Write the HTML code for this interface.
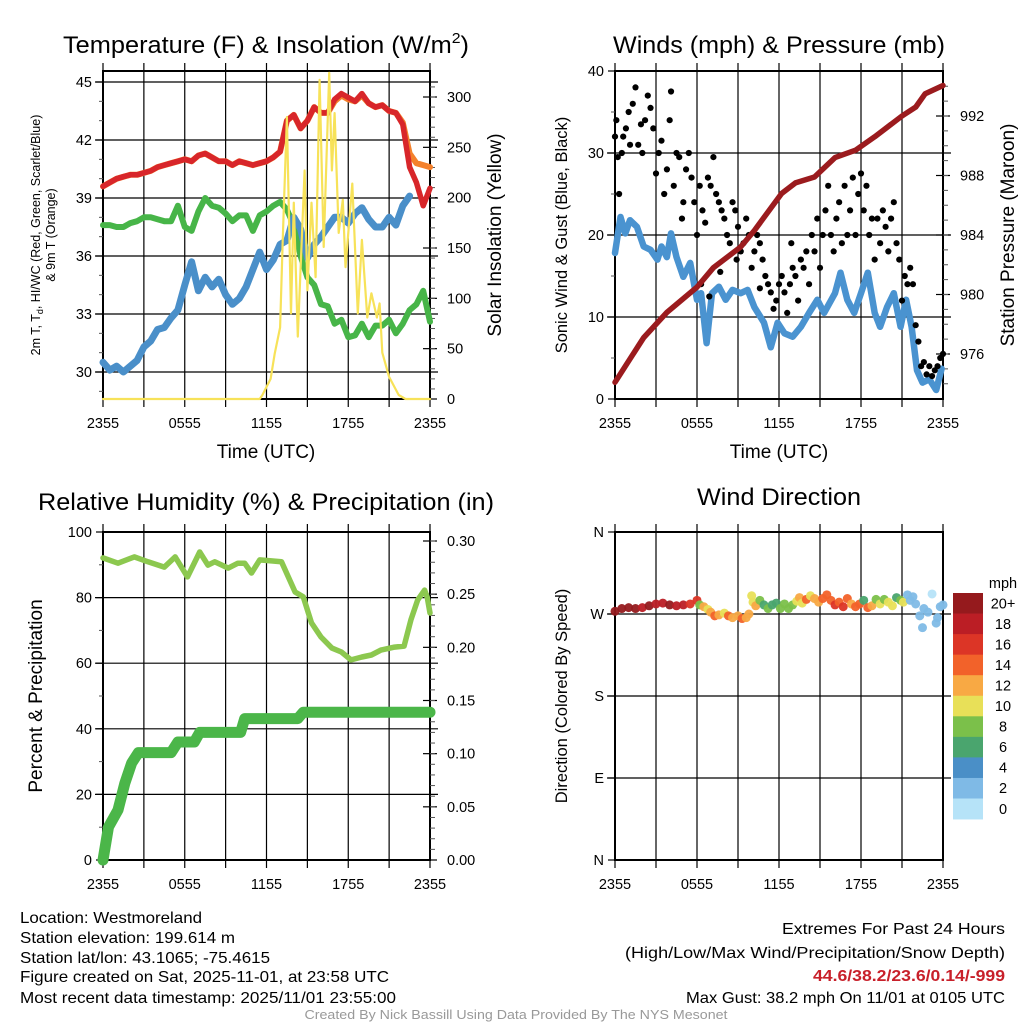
<!DOCTYPE html>
<html><head><meta charset="utf-8">
<style>
html,body{margin:0;padding:0;background:#fff;}
svg{display:block;font-family:"Liberation Sans",sans-serif;}
</style></head>
<body>
<svg id="fig" width="1024" height="1024" viewBox="0 0 1024 1024" xmlns="http://www.w3.org/2000/svg">
<rect width="1024" height="1024" fill="#fff"/>
<g font-size="24" text-anchor="middle" fill="#000">
<text x="266" y="53" textLength="406" lengthAdjust="spacingAndGlyphs">Temperature (F) &amp; Insolation (W/m<tspan font-size="15" dy="-10">2</tspan><tspan dy="10">)</tspan></text>
<text x="779" y="53" textLength="332" lengthAdjust="spacingAndGlyphs">Winds (mph) &amp; Pressure (mb)</text>
<text x="266" y="510" textLength="456" lengthAdjust="spacingAndGlyphs">Relative Humidity (%) &amp; Precipitation (in)</text>
<text x="779" y="505" textLength="164" lengthAdjust="spacingAndGlyphs">Wind Direction</text>
</g>
<g fill="#000" text-anchor="middle">
<text x="266" y="458" font-size="19">Time (UTC)</text>
<text x="779" y="458" font-size="19">Time (UTC)</text>
<text font-size="12.5" transform="translate(40,235) rotate(-90)">2m T, T<tspan font-size="9" dy="3">d</tspan><tspan dy="-3">, HI/WC (Red, Green, Scarlet/Blue)</tspan></text>
<text font-size="12.5" transform="translate(55,235) rotate(-90)">&amp; 9m T (Orange)</text>
<text font-size="19" transform="translate(501,235) rotate(-90)">Solar Insolation (Yellow)</text>
<text font-size="16.5" transform="translate(567,235) rotate(-90)">Sonic Wind &amp; Gust (Blue, Black)</text>
<text font-size="19" transform="translate(1014,235) rotate(-90)">Station Pressure (Maroon)</text>
<text font-size="19" transform="translate(42,696) rotate(-90)">Percent &amp; Precipitation</text>
<text font-size="16.5" transform="translate(567,696) rotate(-90)">Direction (Colored By Speed)</text>
</g>
<g id="plots"></g>
<g font-size="16" fill="#000" lengthAdjust="spacingAndGlyphs">
<text x="20" y="923" textLength="182" lengthAdjust="spacingAndGlyphs">Location: Westmoreland</text>
<text x="20" y="943" textLength="215" lengthAdjust="spacingAndGlyphs">Station elevation: 199.614 m</text>
<text x="20" y="963" textLength="250" lengthAdjust="spacingAndGlyphs">Station lat/lon: 43.1065; -75.4615</text>
<text x="20" y="982" textLength="369" lengthAdjust="spacingAndGlyphs">Figure created on Sat, 2025-11-01, at 23:58 UTC</text>
<text x="20" y="1003" textLength="376" lengthAdjust="spacingAndGlyphs">Most recent data timestamp: 2025/11/01 23:55:00</text>
</g>
<g font-size="16" fill="#000" text-anchor="end">
<text x="1005" y="934" textLength="223" lengthAdjust="spacingAndGlyphs">Extremes For Past 24 Hours</text>
<text x="1005" y="958" textLength="380" lengthAdjust="spacingAndGlyphs">(High/Low/Max Wind/Precipitation/Snow Depth)</text>
<text x="1005" y="981" fill="#c8202a" font-weight="bold" textLength="192" lengthAdjust="spacingAndGlyphs">44.6/38.2/23.6/0.14/-999</text>
<text x="1005" y="1003" textLength="319" lengthAdjust="spacingAndGlyphs">Max Gust: 38.2 mph On 11/01 at 0105 UTC</text>
</g>
<text x="516" y="1019" font-size="13" fill="#999" text-anchor="middle" textLength="423" lengthAdjust="spacingAndGlyphs">Created By Nick Bassill Using Data Provided By The NYS Mesonet</text>
</svg>
<script>
// ---------- data ----------
const timeLabels = ["2355","0555","1155","1755","2355"];
const tempHours = [0,0.5,1,1.5,2,2.5,3,3.5,4,4.5,5,5.5,6,6.5,7,7.5,8,8.5,9,9.5,10,10.5,11,11.5,12,12.5,13,13.5,14,14.5,15,15.5,16,16.5,17,17.5,18,18.5,19,19.5,20,20.5,21,21.5,22,22.5,23,23.5,24];
const redTemp = [39.6,39.8,40.0,40.1,40.2,40.2,40.3,40.4,40.6,40.7,40.8,40.9,41.0,40.9,41.2,41.3,41.1,40.9,40.9,40.7,40.9,40.8,40.7,40.8,40.9,41.1,41.4,43.0,43.3,42.6,43.0,43.7,43.4,43.4,44.1,44.4,44.2,44.0,44.4,43.9,43.7,43.8,43.5,43.4,42.8,40.6,39.8,38.6,39.5];
const orangeTemp = [39.6,39.8,40.0,40.1,40.2,40.2,40.3,40.4,40.6,40.7,40.8,40.9,41.0,40.9,41.2,41.3,41.1,40.9,40.9,40.7,40.9,40.8,40.7,40.8,40.9,41.1,41.4,43.0,43.3,42.6,43.0,43.7,43.4,43.4,44.0,44.3,44.1,44.0,44.3,43.9,43.7,43.8,43.5,43.4,42.9,41.3,40.8,40.7,40.6];
const greenDew = [37.6,37.6,37.5,37.5,37.7,37.8,38.0,38.0,37.9,37.8,37.8,38.6,37.5,37.3,38.3,39.0,38.6,38.5,38.2,37.8,38.1,38.1,37.3,38.1,38.3,38.6,38.8,38.4,37.6,36.0,34.9,34.5,33.5,33.4,32.5,32.7,31.8,31.9,32.5,31.8,32.4,32.4,32.7,32.0,32.5,33.2,33.5,34.2,32.6];
const blueChill = [30.5,30.1,30.3,30.0,30.3,30.6,31.3,31.6,32.2,32.3,32.8,33.2,34.5,35.7,34.2,34.9,34.4,34.8,34.0,33.5,33.8,34.4,35.3,36.2,35.3,35.8,36.6,36.8,38.0,37.4,35.9,36.6,37.0,37.5,38.0,38.0,37.7,38.2,38.5,37.9,37.5,37.5,38.0,37.6,38.6,39.1,null,null,null];
const solarHours = [0,11.5,11.7,12.3,12.6,13.0,13.2,13.5,13.8,14.0,14.3,14.8,15.0,15.3,15.6,15.9,16.2,16.6,16.8,17.0,17.3,17.6,17.8,18.3,18.7,19.0,19.4,19.7,20.1,20.3,20.5,21.0,21.7,22.2,24];
const solarValues = [0,0,4,20,45,71,160,280,85,195,62,227,108,195,121,317,151,324,227,284,165,198,131,214,85,158,81,105,81,95,46,22,4,0,0];
const windHours = [0,0.4,0.75,1.1,1.6,2.1,2.6,3.1,3.4,3.8,4.1,4.5,5.0,5.5,6.0,6.3,6.7,7.1,7.6,8.1,8.6,9.2,9.7,10.2,10.9,11.4,11.9,12.4,13.0,13.6,14.2,14.8,15.3,16.1,16.5,17.0,17.5,18.0,18.5,19.0,19.4,19.9,20.4,20.9,21.3,21.7,22.1,22.5,23.0,23.5,23.9];
const windSpeed = [17.8,22.2,20.2,21.8,21.0,18.6,18.2,17.0,18.6,17.3,20.2,17.3,14.9,16.6,12.1,12.9,6.8,12.9,13.7,12.1,13.3,12.9,13.3,11.2,9.3,6.3,9.3,8.0,7.6,8.8,10.5,12.1,10.5,12.9,15.4,12.1,10.5,12.9,15.4,10.5,8.8,11.2,12.9,8.8,12.1,8.8,3.5,2.0,2.4,1.1,3.7];
const gustHours = [0,0.1,0.2,0.3,0.5,0.6,0.8,1.0,1.1,1.3,1.5,1.7,1.9,2.0,2.2,2.4,2.6,2.8,3.0,3.2,3.4,3.6,3.8,4.0,4.1,4.3,4.5,4.7,4.9,5.0,5.2,5.4,5.6,5.8,6.0,6.2,6.4,6.6,6.8,7.0,7.2,7.4,7.6,7.8,8.0,8.2,8.4,8.6,8.8,9.0,9.2,9.4,9.6,9.8,10.0,10.2,10.4,10.6,10.8,11.0,11.2,11.4,11.6,11.8,12.0,12.2,12.4,12.6,12.8,13.0,13.2,13.4,13.6,13.8,14.0,14.2,14.4,14.6,14.8,15.0,15.2,15.4,15.6,15.8,16.0,16.2,16.4,16.6,16.8,17.0,17.2,17.4,17.6,17.8,18.0,18.2,18.4,18.6,18.8,19.0,19.2,19.4,19.6,19.8,20.0,20.2,20.4,20.6,20.8,21.0,21.2,21.4,21.6,21.8,22.0,22.2,22.4,22.6,22.8,23.0,23.2,23.4,23.6,23.8,24.0,6.3,6.9,7.7,8.9,10.6,12.9];
const gustSpeed = [32,34,29.5,25,30,32,33,35,31,36,38,31,33.5,30,34,37,35.5,33,27.5,30,31.5,25,28,34,37.5,26,30,29.5,22,24,28,30,27,24,20,26,23,21.5,27,26,29.5,25,24,23,22,20,19,24,23,21,18,19,22,20,16,18,20,19,17,15,14,13,11,12,14,15,13,10.5,14,16,15,12,17,16,18,14,20,18,22,16,20,23,26,20,18,22,24,19,26,20,23,27,20,25,27.5,23,26,20,22,17,22,19,23,21,18,22,24,19,17,12,15,14,16,14,9,7,4,4.5,3,4,2.8,3.5,4,5,5.5,14,12.5,15.5,17,13.5,19];
const pressHours = [0,2.1,3.8,6.0,7.2,9.2,10.2,12.2,13.2,14.6,16.1,17.6,19.0,21.0,22.0,22.7,24];
const pressValues = [974.1,977.1,978.8,980.5,981.8,983.2,984.3,986.8,987.5,987.9,989.2,989.7,990.6,992.0,992.6,993.5,994.05];
const rhHours = [0,1.1,2.3,3.3,4.5,5.3,6.2,7.1,7.7,8.2,9.2,9.9,10.4,10.9,11.5,13.1,13.6,14.1,14.7,15.3,16.0,16.8,17.5,18.2,19.0,19.7,20.4,21.4,22.1,22.6,23.1,23.6,23.8,24];
const rhValues = [92.1,90.5,92.4,90.9,89.3,92.4,86.3,93.9,89.9,90.9,89.0,90.5,90.5,87.5,91.5,90.9,86.3,81.7,80.2,72.3,68.0,64.6,63.4,61.0,61.9,62.5,64.0,64.9,65.2,73.2,79.3,82.3,80.0,75.3];
const precipHours = [0,0.4,1.1,1.6,2.1,2.6,5.0,5.5,6.7,7.1,10.1,10.4,14.3,14.7,24];
const precipValues = [0,0.031,0.047,0.072,0.091,0.101,0.101,0.111,0.111,0.120,0.120,0.133,0.133,0.139,0.139];
const dirHours = [0,0.5,1,1.5,2,2.5,3,3.5,4,4.5,5,5.5,6,6.2,6.5,6.8,7,7.3,7.6,8,8.3,8.6,9,9.3,9.6,9.8,10,10.1,10.3,10.6,10.9,11.2,11.5,11.8,12.1,12.4,12.7,13,13.3,13.5,13.7,14,14.3,14.6,14.9,15.2,15.5,15.8,16.1,16.4,16.7,17,17.3,17.6,17.9,18.2,18.5,18.8,19.1,19.4,19.7,20,20.3,20.6,20.9,21.1,21.4,21.6,21.8,22,22.3,22.5,22.6,22.9,23.2,23.5,23.6,23.8,24];
const dirValues = [273,276,277,276,277,279,281,282,280,279,280,281,285,280,278,275,272,268,269,271,268,266,268,265,266,270,290,283,279,285,280,276,280,282,276,281,276,280,284,288,282,286,290,287,283,287,291,285,280,283,278,287,281,278,281,285,277,279,286,281,286,283,279,288,285,283,291,285,289,281,268,255,276,272,292,260,266,278,280];
const dirSpeed = [20,20,21,20,19,20,18,18,21,19,18,17,16,8,12,10,12,14,13,10,14,13,12,14,12,12,10,10,12,9,7,8,6,7,8,9,8,8,10,12,10,14,11,12,13,14,15,14,16,15,16,15,13,14,15,7,14,12,8,10,8,11,10,6,9,10,3,2,3,2,2,3,3,2,1,2,3,3,2];
const speedColors = ["#b6e3f8","#7fbae6","#4a8fc7","#4aa56e","#7bc04a","#e8e058","#f8a944","#f2622a","#dc3526","#bb1e25","#951a1d"];
const speedLabels = ["0","2","4","6","8","10","12","14","16","18","20+"];

// ---------- helpers ----------
const NS = "http://www.w3.org/2000/svg";
const root = document.getElementById("plots");
function mk(tag, attrs, parent){
  const e = document.createElementNS(NS, tag);
  for (const k in attrs) e.setAttribute(k, attrs[k]);
  (parent || root).appendChild(e);
  return e;
}
function scale(d0,d1,r0,r1){ return v => r0 + (v-d0)/(d1-d0)*(r1-r0); }

function panel(name, x0, x1, y0, y1){
  const g = mk("g", {});
  
  
  return {g, x0, x1, y0, y1, x: scale(0,24,x0,x1)};
}
function frame(p, hGrid, yFn){
  for (let h=0; h<=24; h+=3){
    const X = p.x(h);
    const l = mk("line", {x1:X, x2:X, y1:p.y0-8, y2:p.y1+8, stroke:"#000", "stroke-width":1.2}, p.g);
    
    
  }
  hGrid.forEach(v => {
    const Y = yFn(v);
    const l = mk("line", {x1:p.x0-8, x2:p.x1+8, y1:Y, y2:Y, stroke:"#000", "stroke-width":1.2}, p.g);
    
    
  });
  const b = mk("rect", {x:p.x0, y:p.y0, width:p.x1-p.x0, height:p.y1-p.y0, fill:"none", stroke:"#000", "stroke-width":2}, p.g);
  
  
  for (let i=0;i<timeLabels.length;i++){
    const t = mk("text", {x:p.x(i*6), y:p.y1+29, "font-size":14.5, "text-anchor":"middle"}, p.g);
    t.textContent = timeLabels[i];
    
    
  }
}
function leftTicks(p, vals, labels, yFn, minor){
  vals.forEach((v,i) => {
    const Y = yFn(v);
    const l = mk("line", {x1:p.x0-7, x2:p.x0, y1:Y, y2:Y, stroke:"#000", "stroke-width":1.2}, p.g);
    
    
    const t = mk("text", {x:p.x0-11, y:Y+5, "font-size":14.5, "text-anchor":"end"}, p.g);
    t.textContent = labels[i];
    
    
  });
  (minor||[]).forEach(v => {
    const Y = yFn(v);
    const l = mk("line", {x1:p.x0-4, x2:p.x0, y1:Y, y2:Y, stroke:"#555", "stroke-width":1}, p.g);
    
    
  });
}
function rightTicks(p, vals, labels, yFn, minor){
  vals.forEach((v,i) => {
    const Y = yFn(v);
    const l = mk("line", {x1:p.x1-7, x2:p.x1+7, y1:Y, y2:Y, stroke:"#000", "stroke-width":1.2}, p.g);
    
    
    const t = mk("text", {x:p.x1+17, y:Y+5, "font-size":14.5, "text-anchor":"start"}, p.g);
    t.textContent = labels[i];
    
    
  });
  (minor||[]).forEach(v => {
    const Y = yFn(v);
    const l = mk("line", {x1:p.x1, x2:p.x1+5, y1:Y, y2:Y, stroke:"#555", "stroke-width":1}, p.g);
    
    
  });
}
function line(p, xs, ys, yFn, color, w, name){
  let d = "", pen = false;
  for (let i=0;i<xs.length;i++){
    if (ys[i]===null){ pen=false; continue; }
    d += (pen?"L":"M") + p.x(xs[i]).toFixed(1) + "," + yFn(ys[i]).toFixed(1);
    pen = true;
  }
  const e = mk("path", {d, fill:"none", stroke:color, "stroke-width":w, "stroke-linejoin":"round", "stroke-linecap":"round"}, p.g);
  
  
  return e;
}
function range(a,b,s){ const r=[]; for(let v=a; v<=b+1e-9; v+=s) r.push(+v.toFixed(4)); return r; }

// ---------- panel 1: temperature ----------
const p1 = panel("temperature-panel", 103, 430, 71, 399);
const yT = scale(45, 30, 82, 372);
const yS = scale(0, 300, 399, 97);
frame(p1, [30,33,36,39,42,45], yT);
leftTicks(p1, [30,33,36,39,42,45], ["30","33","36","39","42","45"], yT, [29,31,32,34,35,37,38,40,41,43,44]);
rightTicks(p1, range(0,300,50), range(0,300,50).map(String), yS, range(10,310,10));
line(p1, tempHours, greenDew, yT, "#47b548", 6, "dewpoint-line");
line(p1, tempHours, blueChill, yT, "#4a8fc9", 7, "windchill-line");
line(p1, tempHours, orangeTemp, yT, "#f4812c", 6, "9m-temp-line");
line(p1, tempHours, redTemp, yT, "#d8262a", 5.5, "2m-temp-line");
line(p1, solarHours, solarValues, yS, "#f7e259", 2.2, "solar-line");

// ---------- panel 2: winds & pressure ----------
const p2 = panel("wind-panel", 615, 943, 71, 399);
const yW = scale(0, 40, 399, 71);
const yP = scale(976, 992, 354, 116);
frame(p2, [10,20,30], yW);
leftTicks(p2, [0,10,20,30,40], ["0","10","20","30","40"], yW, [5,15,25,35]);
rightTicks(p2, [976,980,984,988,992], ["976","980","984","988","992"], yP, range(974,994,1));
line(p2, windHours, windSpeed, yW, "#4a93d0", 6.5, "sonic-wind-line");
for (let i=0;i<gustHours.length;i++){
  const c = mk("circle", {cx:p2.x(gustHours[i]), cy:yW(gustSpeed[i]), r:3.1, fill:"#000"}, p2.g);
  
  
}
line(p2, pressHours, pressValues, yP, "#9b1b1e", 5.5, "pressure-line");

// ---------- panel 3: RH & precipitation ----------
const p3 = panel("humidity-panel", 103, 430, 532, 860);
const yR = scale(0, 100, 860, 532);
const yPr = scale(0, 0.30, 860, 541);
frame(p3, [20,40,60,80], yR);
leftTicks(p3, [0,20,40,60,80,100], ["0","20","40","60","80","100"], yR, [10,30,50,70,90]);
rightTicks(p3, range(0,0.30,0.05), ["0.00","0.05","0.10","0.15","0.20","0.25","0.30"], yPr, range(0.01,0.30,0.01));
line(p3, rhHours, rhValues, yR, "#8cc84f", 5.5, "rh-line");
line(p3, precipHours, precipValues, yPr, "#4bb649", 11, "precip-line");

// ---------- panel 4: wind direction ----------
const p4 = panel("direction-panel", 615, 943, 532, 860);
const yD = scale(0, 360, 860, 532);
frame(p4, [90,180,270], yD);
leftTicks(p4, [0,90,180,270,360], ["N","E","S","W","N"], yD, []);
for (let i=0;i<dirHours.length;i++){
  const idx = Math.max(0, Math.min(10, Math.floor(dirSpeed[i]/2)));
  const c = mk("circle", {cx:p4.x(dirHours[i]), cy:yD(dirValues[i]), r:4.5, fill:speedColors[idx], "fill-opacity":0.95}, p4.g);
  
  
}
const cb = mk("g", {});


const cbTop = 593, cbH = 20.55;
const mph = mk("text", {x:1003, y:588, "font-size":14.5, "text-anchor":"middle"}, cb);
mph.textContent = "mph";


for (let k=0;k<speedColors.length;k++){
  const j = speedColors.length-1-k;
  const r = mk("rect", {x:953, y:cbTop+k*cbH, width:30, height:cbH+0.4, fill:speedColors[j]}, cb);
  
  
  const t = mk("text", {x:1003, y:cbTop+k*cbH+cbH/2+5, "font-size":14.5, "text-anchor":"middle"}, cb);
  t.textContent = speedLabels[j];
  
  
}
</script>
</body></html>
